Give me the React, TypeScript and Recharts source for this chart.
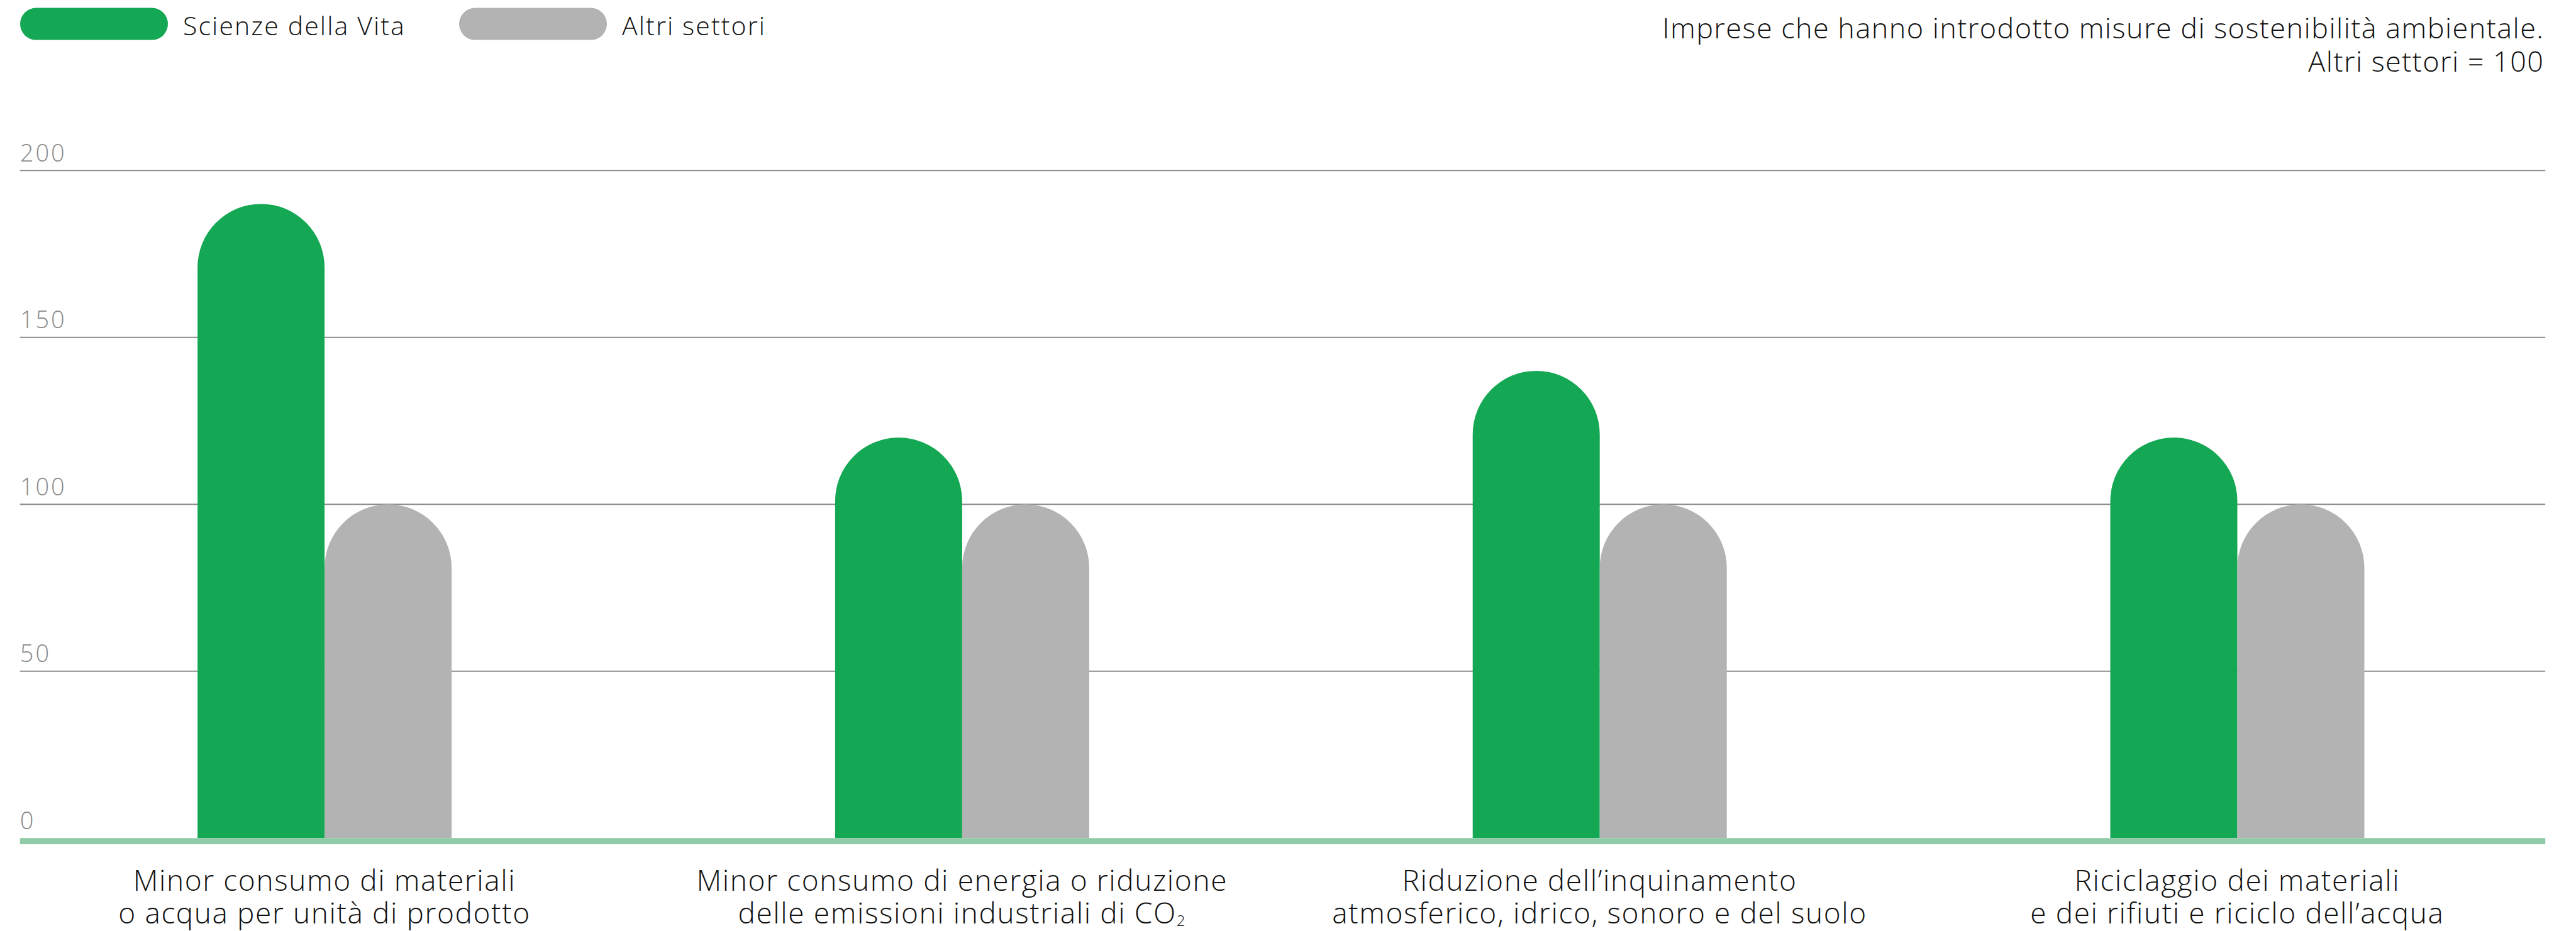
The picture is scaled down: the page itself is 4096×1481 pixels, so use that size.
import React from 'react';
import { BarChart, Bar, XAxis, YAxis, CartesianGrid, ReferenceLine, Legend } from 'recharts';

// ---- data ----
const categories = [
  'Minor consumo di materiali o acqua per unità di prodotto',
  'Minor consumo di energia o riduzione delle emissioni industriali di CO₂',
  'Riduzione dell’inquinamento atmosferico, idrico, sonoro e del suolo',
  'Riciclaggio dei materiali e dei rifiuti e riciclo dell’acqua',
];
const categoryLines = [
  ['Minor consumo di materiali', 'o acqua per unità di prodotto'],
  ['Minor consumo di energia o riduzione', 'delle emissioni industriali di CO₂'],
  ['Riduzione dell’inquinamento', 'atmosferico, idrico, sonoro e del suolo'],
  ['Riciclaggio dei materiali', 'e dei rifiuti e riciclo dell’acqua'],
];
const scienzeValues = [190, 120, 140, 120];
const altriValues = [100, 100, 100, 100];
const yTicks = [0, 50, 100, 150, 200];
const gridValues = [50, 100, 150, 200];
const seriesNames = ['Scienze della Vita', 'Altri settori'];
const titleLines = ['Imprese che hanno introdotto misure di sostenibilità ambientale.', 'Altri settori = 100'];

// ---- style ----
const W = 4096;
const H = 1481;
const FONT = "'Open Sans', sans-serif";
const GREEN = '#15A854';
const GRAY = '#B3B3B3';
const AXIS_GREEN = '#8ECBA7';
const TICK_GRAY = '#8A8A8A';
const GRID_GRAY = '#8C8C8C';
const TEXT = '#111111';
const SERIES_COLORS = [GREEN, GRAY];

const data = categories.map((c, i) => ({
  name: c,
  scienze: scienzeValues[i],
  altri: altriValues[i],
}));

const YTick = (props: any) => {
  const { x, y, payload } = props;
  return (
    <text x={x} y={y - 14.6} textAnchor="start" fill={TICK_GRAY} fontSize={38} letterSpacing={3} fontFamily={FONT} fontWeight={300}>
      {payload.value}
    </text>
  );
};

const renderLine = (line: string, x: number, dy: number, key: number) => {
  const idx = line.indexOf('₂');
  if (idx >= 0) {
    return [
      <tspan key={key + 'a'} x={x} dy={dy}>{line.slice(0, idx)}</tspan>,
      <tspan key={key + 'b'} dy={4} fontSize={24}>2</tspan>,
    ];
  }
  return <tspan key={key} x={x} dy={dy}>{line}</tspan>;
};

const XTick = (props: any) => {
  const { x, y, payload } = props;
  const i = categories.indexOf(payload.value);
  const lines = categoryLines[i] || [payload.value];
  return (
    <text x={x} y={y} textAnchor="middle" fill={TEXT} fontSize={46} letterSpacing={1.6} fontFamily={FONT} fontWeight={300}>
      {lines.map((l, k) => renderLine(l, x, k === 0 ? 83.4 : 52.3, k))}
    </text>
  );
};

const LegendContent = () => {
  const pillX = [32, 730];
  return (
    <svg width={1300} height={80}>
      {seriesNames.map((n, i) => (
        <g key={i}>
          <rect x={pillX[i]} y={12.6} width={235} height={51} rx={25.5} ry={25.5} fill={SERIES_COLORS[i]} />
          <text x={pillX[i] + 259} y={55.6} fill={TEXT} fontSize={41} letterSpacing={2.1} fontFamily={FONT} fontWeight={300}>
            {n}
          </text>
        </g>
      ))}
    </svg>
  );
};

const BaseLine = (p: any) => (
  <line x1={p.x1} x2={p.x2} y1={p.y1 + 4.8} y2={p.y2 + 4.8} stroke={AXIS_GREEN} strokeWidth={9.6} />
);

export default function App() {
  return (
    <div style={{ position: 'absolute', left: 0, top: 0, width: W, height: H, background: '#fff' }}>
      <svg width={W} height={140} style={{ position: 'absolute', left: 0, top: 0 }}>
        <text x={4045.5} y={60.6} textAnchor="end" fill={TEXT} fontSize={45} letterSpacing={1.45} fontFamily={FONT} fontWeight={300}>
          {titleLines[0]}
        </text>
        <text x={4045.5} y={113.6} textAnchor="end" fill={TEXT} fontSize={45} letterSpacing={1.45} fontFamily={FONT} fontWeight={300}>
          {titleLines[1]}
        </text>
      </svg>
      <BarChart
        width={W}
        height={H}
        data={data}
        margin={{ top: 271.3, left: 30.7, right: 48.8, bottom: 7.7 }}
        barGap={0}
        barSize={202}
        style={{ position: 'absolute', left: 0, top: 0 }}
      >
        <CartesianGrid vertical={false} horizontalValues={gridValues} stroke={GRID_GRAY} strokeWidth={2} />
        <XAxis
          dataKey="name"
          interval={0}
          axisLine={false}
          tickLine={false}
          tickSize={0}
          tickMargin={0}
          height={140}
          padding={{ left: -22.6, right: -17.1 }}
          tick={<XTick />}
        />
        <YAxis
          domain={[0, 200]}
          ticks={yTicks}
          width={1}
          interval={0}
          axisLine={false}
          tickLine={false}
          tickSize={0}
          tickMargin={0}
          tick={<YTick />}
        />
        <Legend
          layout="vertical"
          align="center"
          verticalAlign="middle"
          wrapperStyle={{ top: 0, left: 0, width: 1300, height: 80 }}
          content={<LegendContent />}
        />
        <Bar dataKey="scienze" name={seriesNames[0]} fill={GREEN} radius={[101, 101, 0, 0]} isAnimationActive={false} />
        <Bar dataKey="altri" name={seriesNames[1]} fill={GRAY} radius={[101, 101, 0, 0]} isAnimationActive={false} />
        <ReferenceLine y={0} shape={<BaseLine />} />
      </BarChart>
    </div>
  );
}
